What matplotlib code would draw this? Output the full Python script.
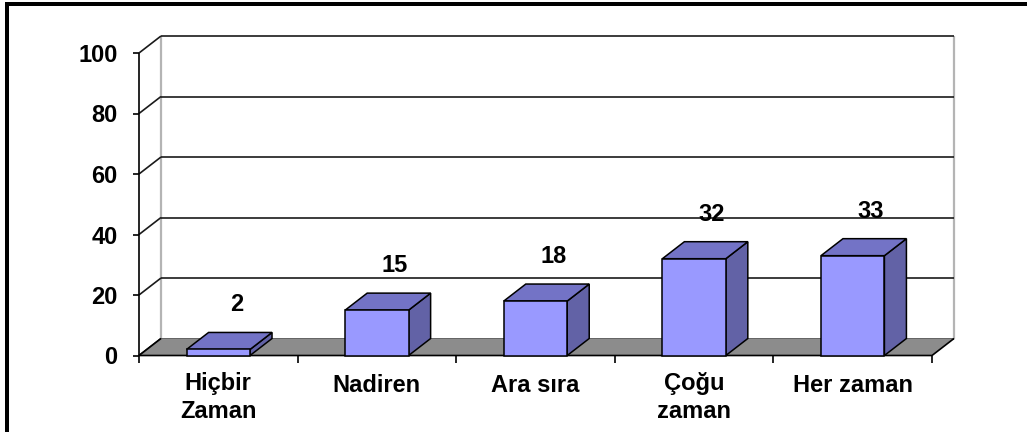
import matplotlib
matplotlib.use("Agg")
import matplotlib.pyplot as plt
from matplotlib.patches import Polygon, Rectangle

# Survey answers and their percentages
categories = ["Hiçbir\nZaman", "Nadiren", "Ara sıra", "Çoğu\nzaman", "Her zaman"]
values = [2, 15, 18, 32, 33]
y_ticks = [0, 20, 40, 60, 80, 100]

plt.rcParams["font.family"] = ["Liberation Sans", "DejaVu Sans"]
plt.rcParams["font.weight"] = "bold"

W, H, DPI = 1027, 432, 100
PT = 72.0 / DPI  # points per pixel
FS = 17

fig = plt.figure(figsize=(W / DPI, H / DPI), dpi=DPI)
fig.patch.set_facecolor("white")

# front plane of the 3-D plot area (pixels)
x_left, x_right = 139, 932
y_zero, y_top = 355.5, 53
ax = fig.add_axes([x_left / W, (H - y_zero) / H,
                   (x_right - x_left) / W, (y_zero - y_top) / H])
n = len(categories)
ax.set_xlim(-0.5, n - 0.5)
ax.set_ylim(0, 100)
ax.axis("off")

# depth of the 3-D box, converted into data units
px_per_cat = (x_right - x_left) / n
px_per_val = (y_zero - y_top) / 100.0
DX = 22 / px_per_cat
DY = 17 / px_per_val

x0, x1 = -0.5, n - 0.5
line_kw = dict(clip_on=False, solid_capstyle="butt")

# back-wall and side-wall gridlines
for t in y_ticks:
    ax.plot([x0 + DX, x1 + DX], [t + DY, t + DY], color="#1a1a1a", lw=1.2, zorder=2, **line_kw)
    ax.plot([x0, x0 + DX], [t, t + DY], color="#1a1a1a", lw=1.2, zorder=2, **line_kw)

# wall edges
ax.plot([x0 + DX, x0 + DX], [DY, 100 + DY], color="#b4b4b4", lw=1.6, zorder=1, **line_kw)
ax.plot([x1 + DX, x1 + DX], [DY, 100 + DY], color="#b4b4b4", lw=1.6, zorder=1, **line_kw)

# floor
floor = Polygon([(x0, 0), (x1, 0), (x1 + DX, DY), (x0 + DX, DY)], closed=True,
                facecolor="#8c8c8c", edgecolor="none", zorder=3, clip_on=False)
ax.add_patch(floor)
ax.plot([x0, x1, x1 + DX], [0, 0, DY], color="black", lw=1.2, zorder=4, **line_kw)
ax.plot([x0, x0 + DX], [0, DY], color="black", lw=1.2, zorder=4, **line_kw)

# value axis line and ticks
ax.plot([x0, x0], [0, 100], color="black", lw=1.2, zorder=4, **line_kw)
tick_len = 6 / px_per_cat
for t in y_ticks:
    ax.plot([x0 - tick_len, x0], [t, t], color="black", lw=1.2, zorder=4, **line_kw)
    ax.annotate(str(t), xy=(x0, t), xytext=(-21.5 * PT, 0), textcoords="offset points",
                ha="right", va="center_baseline", fontsize=FS, fontweight="bold",
                annotation_clip=False)

# category ticks
cat_tick = 7 / px_per_val
for k in range(n + 1):
    xb = x0 + k
    ax.plot([xb, xb], [0, -cat_tick], color="black", lw=1.2, zorder=4, **line_kw)

# 3-D bars
bw = 0.4
front_c, top_c, side_c = "#9999ff", "#7373c6", "#6262a6"
edge_kw = dict(edgecolor="black", linewidth=1.1, joinstyle="miter", clip_on=False)
for i, v in enumerate(values):
    l, r = i - bw / 2, i + bw / 2
    side = Polygon([(r, 0), (r + DX, DY), (r + DX, v + DY), (r, v)], closed=True,
                   facecolor=side_c, zorder=5, **edge_kw)
    top = Polygon([(l, v), (r, v), (r + DX, v + DY), (l + DX, v + DY)], closed=True,
                  facecolor=top_c, zorder=5, **edge_kw)
    front = Polygon([(l, 0), (r, 0), (r, v), (l, v)], closed=True,
                    facecolor=front_c, zorder=6, **edge_kw)
    for p in (side, top, front):
        ax.add_patch(p)
    ax.annotate(str(v), xy=(i + 18 / px_per_cat, v), xytext=(0, 47 * PT),
                textcoords="offset points", ha="center", va="center_baseline",
                fontsize=FS, fontweight="bold", annotation_clip=False, zorder=7)

# category labels: first baseline sits 36.5 px under the floor edge
line_pitch = 26.5
for i, c in enumerate(categories):
    extra = c.count("\n") * line_pitch
    ax.annotate(c, xy=(i, 0), xytext=(0, -(36.5 + extra) * PT), textcoords="offset points",
                ha="center", va="baseline", fontsize=FS, fontweight="bold",
                linespacing=1.28, annotation_clip=False)

# outer frame
fig.patches.append(Rectangle((7 / W, -0.2), 1.2, (1 - 4.5 / H) + 0.2, fill=False,
                             edgecolor="black", linewidth=4 * PT,
                             transform=fig.transFigure, figure=fig))

fig.savefig("out.png", dpi=DPI)
